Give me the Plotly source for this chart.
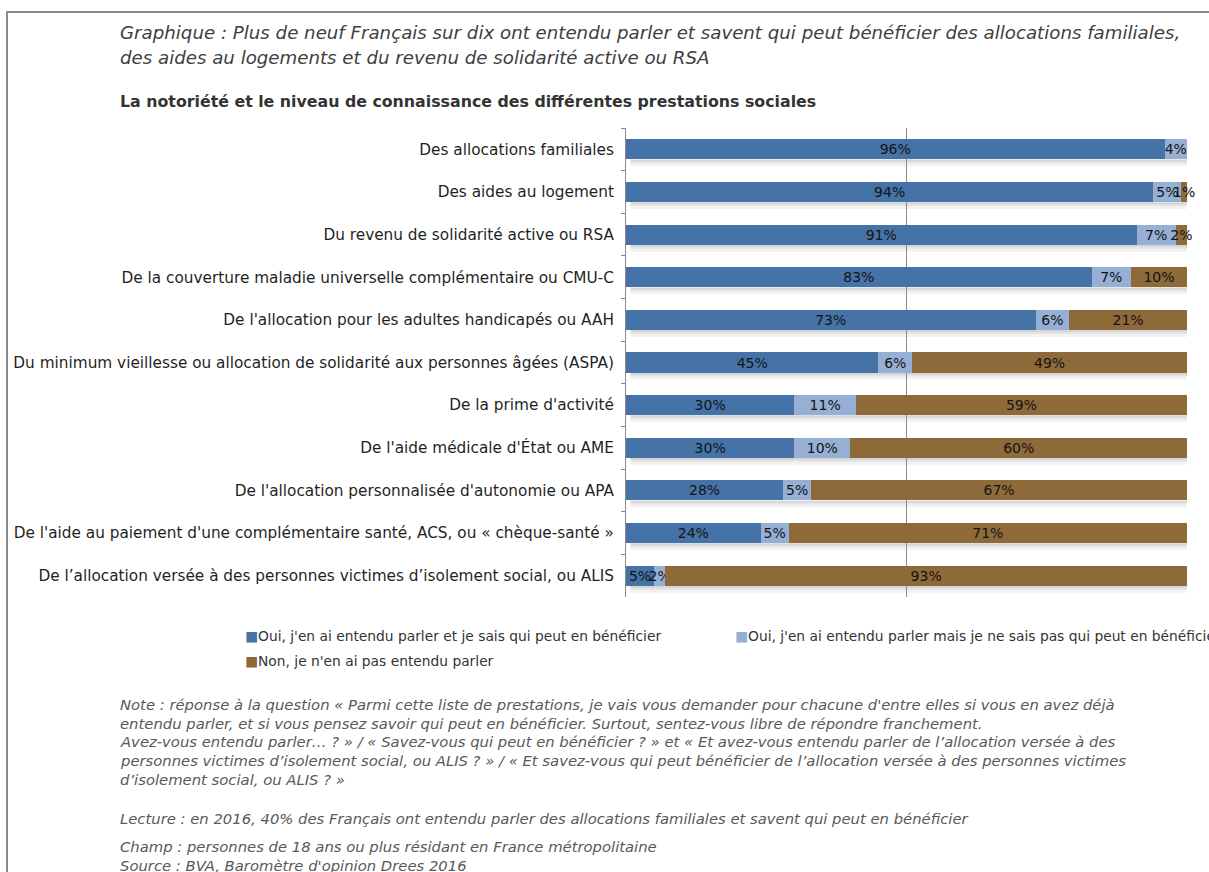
import plotly.graph_objects as go

# --- data -------------------------------------------------------------
categories = [
    "Des allocations familiales",
    "Des aides au logement",
    "Du revenu de solidarité active ou RSA",
    "De la couverture maladie universelle complémentaire ou CMU-C",
    "De l'allocation pour les adultes handicapés ou AAH",
    "Du minimum vieillesse ou allocation de solidarité aux personnes âgées (ASPA)",
    "De la prime d'activité",
    "De l'aide médicale d'État ou AME",
    "De l'allocation personnalisée d'autonomie ou APA",
    "De l'aide au paiement d'une complémentaire santé, ACS, ou « chèque-santé »",
    "De l’allocation versée à des personnes victimes d’isolement social, ou ALIS",
]
oui_sait = [96, 94, 91, 83, 73, 45, 30, 30, 28, 24, 5]
oui_sait_pas = [4, 5, 7, 7, 6, 6, 11, 10, 5, 5, 2]
non = [0, 1, 2, 10, 21, 49, 59, 60, 67, 71, 93]

series_names = [
    "Oui, j'en ai entendu parler et je sais qui peut en bénéficier",
    "Oui, j'en ai entendu parler mais je ne sais pas qui peut en bénéficier",
    "Non, je n'en ai pas entendu parler",
]
series_values = [oui_sait, oui_sait_pas, non]
series_colors = ["#4572a7", "#95afd5", "#8e6a3a"]

title_lines = [
    "Graphique : Plus de neuf Français sur dix ont entendu parler et savent qui peut bénéficier des allocations familiales,",
    "des aides au logements et du revenu de solidarité active ou RSA",
]
subtitle = "La notoriété et le niveau de connaissance des différentes prestations sociales"
note_lines = [
    "Note : réponse à la question « Parmi cette liste de prestations, je vais vous demander pour chacune d'entre elles si vous en avez déjà",
    "entendu parler, et si vous pensez savoir qui peut en bénéficier. Surtout, sentez-vous libre de répondre franchement.",
    "Avez-vous entendu parler… ? » / « Savez-vous qui peut en bénéficier ? » et « Et avez-vous entendu parler de l’allocation versée à des",
    "personnes victimes d’isolement social, ou ALIS ? » / « Et savez-vous qui peut bénéficier de l’allocation versée à des personnes victimes",
    "d’isolement social, ou ALIS ? »",
]
lecture = "Lecture : en 2016, 40% des Français ont entendu parler des allocations familiales et savent qui peut en bénéficier"
champ = "Champ : personnes de 18 ans ou plus résidant en France métropolitaine"
source = "Source : BVA, Baromètre d'opinion Drees 2016"

# --- geometry -----------------------------------------------------------
W, H = 1209, 872
L, R, T, B = 626, 1187, 128, 597


def px(x):
    return (x - L) / (R - L)


def py(y):
    return (B - y) / (B - T)


FONT = "DejaVu Sans, Verdana, sans-serif"

fig = go.Figure()
for name, vals, col in zip(series_names, series_values, series_colors):
    fig.add_trace(go.Bar(
        y=categories, x=vals, orientation="h", name=name,
        marker=dict(color=col, line=dict(width=0)),
        text=[f"{v}%" for v in vals],
        textposition="inside", insidetextanchor="middle", textangle=0,
        constraintext="none", cliponaxis=False,
        textfont=dict(family=FONT, size=14, color="#141414"),
        hoverinfo="skip", showlegend=False,
    ))

# soft drop shadow under each bar
shapes = []
for i, cat in enumerate(categories):
    total = oui_sait[i] + oui_sait_pas[i] + non[i]
    for y0, y1, a in [(0.24, 0.40, 0.05), (0.24, 0.33, 0.06), (0.24, 0.28, 0.07)]:
        shapes.append(dict(type="rect", xref="x", yref="y", layer="below",
                           x0=0.8, x1=total, y0=i + y0, y1=i + y1,
                           fillcolor=f"rgba(0,0,0,{a})", line=dict(width=0)))

# outer frame
shapes.append(dict(type="path", xref="paper", yref="paper",
                   path=f"M {px(7)} {py(H + 5)} L {px(7)} {py(12)} L {px(W + 5)} {py(12)}",
                   line=dict(color="#8a8a8a", width=2)))


def note(text, x, y, size, color, xanchor="left"):
    return dict(text=text, x=px(x), y=py(y), xref="paper", yref="paper",
                xanchor=xanchor, yanchor="middle", showarrow=False,
                font=dict(family=FONT, size=size, color=color))


annotations = []
for k, line in enumerate(title_lines):
    annotations.append(note(f"<i>{line}</i>", 118, 33 + 24 * k, 18.2, "#404040"))
annotations.append(note(f"<b>{subtitle}</b>", 118, 102, 15.8, "#333333"))

# legend drawn as coloured squares + text
legend_pos = [(243, 636), (733, 636), (243, 661)]
for (lx, ly), name, col in zip(legend_pos, series_names, series_colors):
    annotations.append(note(f"<span style='color:{col}'>■</span>{name}", lx, ly, 13.8, "#333333"))

note_y = [704, 723, 741, 760, 779]
for yy, line in zip(note_y, note_lines):
    annotations.append(note(f"<i>{line}</i>", 118, yy, 14.8, "#595959"))
for yy, line in [(818, lecture), (846, champ), (865, source)]:
    annotations.append(note(f"<i>{line}</i>", 118, yy, 14.8, "#595959"))

fig.update_layout(
    width=W, height=H,
    margin=dict(l=L, r=W - R, t=T, b=H - B, pad=0),
    barmode="stack", bargap=0.53,
    paper_bgcolor="white", plot_bgcolor="white",
    font=dict(family=FONT, color="#222222"),
    shapes=shapes, annotations=annotations,
    showlegend=False,
)
fig.update_xaxes(range=[0, 100], dtick=50, showgrid=True, gridcolor="#8a8a8a", gridwidth=1,
                 showticklabels=False, zeroline=False, showline=False, fixedrange=True)
fig.update_yaxes(autorange="reversed", showline=True, linecolor="#8a8a8a", linewidth=1,
                 ticks="outside", tickson="boundaries", ticklen=4, tickcolor="#8a8a8a",
                 tickfont=dict(family=FONT, size=15.3, color="#1f1f1f"),
                 ticklabelstandoff=8, showgrid=False, fixedrange=True)

fig.write_html("out.html")
